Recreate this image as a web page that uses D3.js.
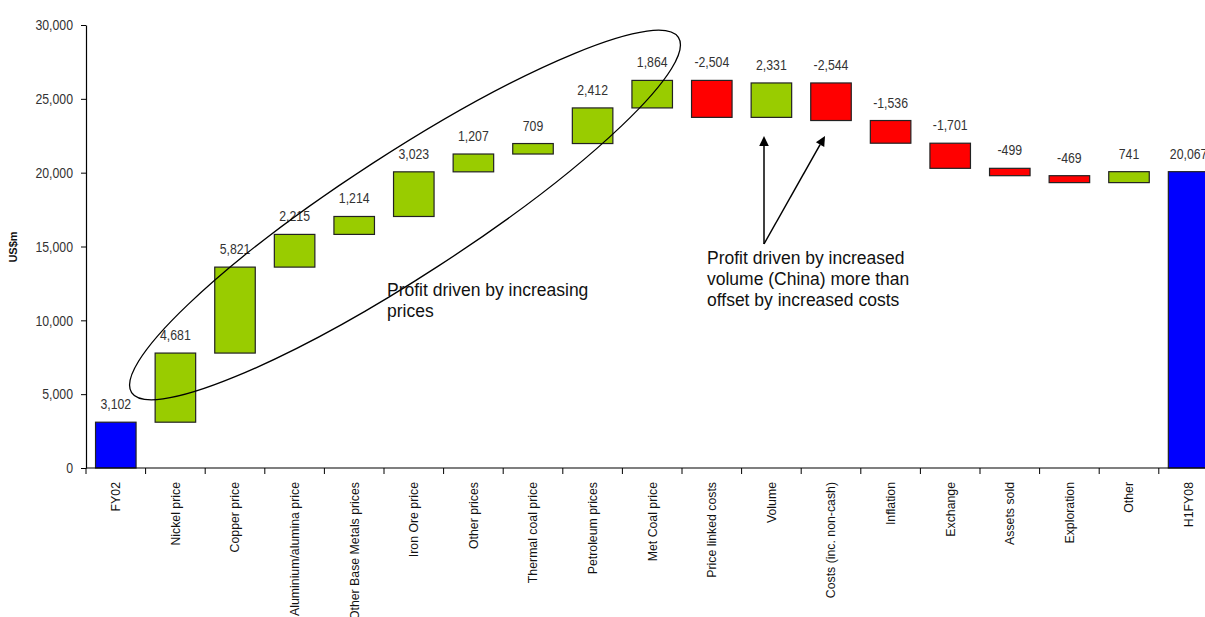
<!DOCTYPE html>
<html>
<head>
<meta charset="utf-8">
<script src="https://cdn.jsdelivr.net/npm/d3@7"></script>
<style>
  html, body { margin: 0; padding: 0; background: #fff; }
  svg { display: block; }
  .num { font-family: "Liberation Sans", Arial, sans-serif; fill: #333; }
  .cat { font-family: "Liberation Sans", Arial, sans-serif; fill: #111; }
  .note { font-family: "Liberation Sans", Arial, sans-serif; fill: #111; }
</style>
</head>
<body>
<svg id="chart" width="1205" height="617"></svg>
<script>
// Profit bridge FY02 -> H1FY08 (US$m)
const categories = [
  "FY02", "Nickel price", "Copper price", "Aluminium/alumina price",
  "Other Base Metals prices", "Iron Ore price", "Other prices",
  "Thermal coal price", "Petroleum prices", "Met Coal price",
  "Price linked costs", "Volume", "Costs (inc. non-cash)", "Inflation",
  "Exchange", "Assets sold", "Exploration", "Other", "H1FY08"
];
const values = [
  3102, 4681, 5821, 2215, 1214, 3023, 1207, 709, 2412, 1864,
  -2504, 2331, -2544, -1536, -1701, -499, -469, 741, 20067
];
const totalCategories = ["FY02", "H1FY08"];
const yTicks = [0, 5000, 10000, 15000, 20000, 25000, 30000];

const priceNote = ["Profit driven by increasing", "prices"];
const volumeNote = ["Profit driven by increased", "volume (China) more than", "offset by increased costs"];

const svg = d3.select("#chart");

const x = d3.scaleBand().domain(categories).range([86, 86 + 19 * 59.6]).padding(0);
const y = d3.scaleLinear().domain([0, 30000]).range([468, 25]);

// numbers use a narrowed sans face and a plain hyphen for negatives
const NARROW = 0.82;
const fmt = v => d3.format(",")(v).replace("\u2212", "-");

// running totals for the waterfall steps
let running = 0;
const bars = categories.map((c, i) => {
  const v = values[i];
  let start, end, kind;
  if (totalCategories.includes(c)) {
    start = 0; end = v; running = v; kind = "total";
  } else {
    start = running; end = running + v; running = end;
    kind = v >= 0 ? "up" : "down";
  }
  return { c, v, start, end, kind };
});

const fillFor = { total: "#0000FF", up: "#99CC00", down: "#FF0000" };
const barW = x.bandwidth() * 0.68;

// bars
svg.append("g").selectAll("rect").data(bars).join("rect")
  .attr("x", d => x(d.c) + (x.bandwidth() - barW) / 2)
  .attr("y", d => y(Math.max(d.start, d.end)))
  .attr("width", barW)
  .attr("height", d => Math.abs(y(d.start) - y(d.end)))
  .attr("fill", d => fillFor[d.kind])
  .attr("stroke", "#222")
  .attr("stroke-width", 1.2);

// value labels
svg.append("g").selectAll("text").data(bars).join("text")
  .attr("class", "num")
  .attr("transform", d => `translate(${x(d.c) + x.bandwidth() / 2},${y(Math.max(d.start, d.end)) - 13}) scale(${NARROW},1)`)
  .attr("text-anchor", "middle")
  .attr("font-size", 15)
  .text(d => fmt(d.v));

// y axis
const yAxis = svg.append("g")
  .attr("transform", "translate(86,0)")
  .call(d3.axisLeft(y).tickValues(yTicks).tickFormat(fmt).tickSize(5).tickSizeOuter(0).tickPadding(8));
yAxis.select(".domain").attr("stroke", "#000").attr("stroke-width", 1.2);
yAxis.selectAll(".tick line").attr("stroke", "#000");
yAxis.selectAll(".tick text")
  .attr("class", "num")
  .attr("font-size", 15)
  .attr("fill", "#333")
  .attr("x", 0)
  .attr("transform", `translate(-13,0) scale(${NARROW},1)`);

// x axis line and boundary ticks
const xg = svg.append("g");
xg.append("line")
  .attr("x1", 86).attr("x2", 1205).attr("y1", y(0)).attr("y2", y(0))
  .attr("stroke", "#000").attr("stroke-width", 1.2);
const bounds = categories.map(c => x(c)).concat([x.range()[1]]);
xg.selectAll("line.tk").data(bounds).join("line")
  .attr("class", "tk")
  .attr("x1", d => d).attr("x2", d => d)
  .attr("y1", y(0)).attr("y2", y(0) + 6)
  .attr("stroke", "#000");
xg.selectAll("text").data(categories).join("text")
  .attr("class", "cat")
  .attr("font-size", 12.3)
  .attr("text-anchor", "end")
  .attr("dy", "0.35em")
  .attr("transform", c => `translate(${x(c) + x.bandwidth() / 2},482) rotate(-90)`)
  .text(c => c);

// y axis title
svg.append("text")
  .attr("transform", "translate(13,247) rotate(-90)")
  .attr("text-anchor", "middle")
  .attr("dy", "0.35em")
  .attr("font-family", "Liberation Sans, Arial, sans-serif")
  .attr("font-weight", "bold")
  .attr("font-size", 11)
  .attr("fill", "#111")
  .text("US$m");

// ellipse around the price-driven steps
svg.append("ellipse")
  .attr("cx", 405).attr("cy", 215)
  .attr("rx", 326).attr("ry", 61)
  .attr("transform", "rotate(-33,405,215)")
  .attr("fill", "none")
  .attr("stroke", "#000")
  .attr("stroke-width", 1.3);

svg.append("text").attr("class", "note").attr("font-size", 17.5)
  .selectAll("tspan").data(priceNote).join("tspan")
  .attr("x", 387).attr("y", (d, i) => 296 + i * 21)
  .text(d => d);

// arrows from the volume note
const arrowBase = [764, 244];
const arrowTips = [[764, 136], [825, 136]];
const ag = svg.append("g");
arrowTips.forEach(t => {
  const dx = t[0] - arrowBase[0], dy = t[1] - arrowBase[1];
  const len = Math.hypot(dx, dy), ux = dx / len, uy = dy / len;
  const hl = 10, hw = 4.8;
  const bx = t[0] - ux * hl, by = t[1] - uy * hl;
  ag.append("line")
    .attr("x1", arrowBase[0]).attr("y1", arrowBase[1])
    .attr("x2", bx).attr("y2", by)
    .attr("stroke", "#000").attr("stroke-width", 1.5);
  ag.append("path")
    .attr("d", `M${t[0]},${t[1]} L${bx - uy * hw},${by + ux * hw} L${bx + uy * hw},${by - ux * hw} Z`)
    .attr("fill", "#000");
});

svg.append("text").attr("class", "note").attr("font-size", 17.5)
  .selectAll("tspan").data(volumeNote).join("tspan")
  .attr("x", 707).attr("y", (d, i) => 264 + i * 21)
  .text(d => d);
</script>
</body>
</html>
